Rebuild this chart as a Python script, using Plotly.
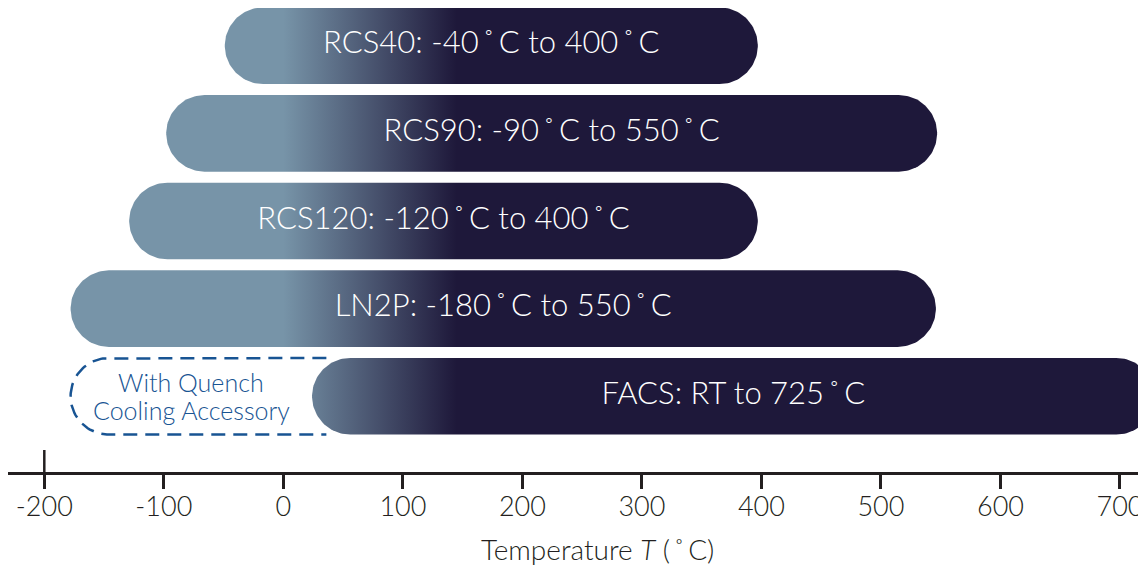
import numpy as np
import plotly.graph_objects as go

# ---- data ----
models = ["FACS", "LN2P", "RCS120", "RCS90", "RCS40"]
DEG = "\u2009˚\u2009"
labels = [f"FACS: RT to 725{DEG}C", f"LN2P: -180{DEG}C to 550{DEG}C",
          f"RCS120: -120{DEG}C to 400{DEG}C", f"RCS90: -90{DEG}C to 550{DEG}C",
          f"RCS40: -40{DEG}C to 400{DEG}C"]
bar_start = [24, -178, -129, -98, -49]
bar_end = [729, 546, 397, 547, 397]
quench_start = -178
quench_end = 36
quench_lines = ["With Quench", "Cooling Accessory"]
tick_vals = [-200, -100, 0, 100, 200, 300, 400, 500, 600, 700]
tick_text = ["-200", "-100", "0", "100", "200", "300", "400", "500", "600", "700"]

# ---- layout geometry (page body has an 8px margin) ----
W, H = 1138, 559
ML, MR, MT, MB = 0, 0, 0, 95
XR = [-230.37, 721.77]
YR = [-0.8637, 4.4301]
plot_w = W - ML - MR
plot_h = H - MT - MB
px_x = plot_w / (XR[1] - XR[0])
px_y = plot_h / (YR[1] - YR[0])
half_px = 38.3
rx = half_px / px_x
ry = half_px / px_y

LIGHT = "#7794A8"
DARK = "#1E183A"
BLUE = "#185493"
INK = "#231F20"
FONT = "Lato"


def stadium(x0, x1, yc):
    t1 = np.linspace(np.pi / 2, 3 * np.pi / 2, 60)
    t2 = np.linspace(-np.pi / 2, np.pi / 2, 60)
    xs = np.concatenate([x0 + rx + rx * np.cos(t1), x1 - rx + rx * np.cos(t2)])
    ys = np.concatenate([yc + ry * np.sin(t1), yc + ry * np.sin(t2)])
    return np.append(xs, xs[0]), np.append(ys, ys[0])


fig = go.Figure()

# dashed quench outline (open on the right, hidden under the FACS bar)
t = np.linspace(np.pi / 2, 3 * np.pi / 2, 60)
qx = np.concatenate([[quench_end], quench_start + rx + rx * np.cos(t), [quench_end]])
qy = np.concatenate([[ry], ry * np.sin(t), [-ry]])
fig.add_trace(go.Scatter(x=qx, y=qy, mode="lines",
                         line=dict(color=BLUE, width=2.5, dash="14px,8px"),
                         hoverinfo="skip", showlegend=False))

for i, (s, e) in enumerate(zip(bar_start, bar_end)):
    xs, ys = stadium(s, e, i)
    fig.add_trace(go.Scatter(
        x=xs, y=ys, mode="lines", fill="toself",
        line=dict(width=0, color=DARK),
        fillgradient=dict(type="horizontal",
                          colorscale=[[0, LIGHT], [1, DARK]],
                          start=0, stop=145),
        hoverinfo="skip", showlegend=False))

fig.add_trace(go.Scatter(
    x=[(s + e) / 2 for s, e in zip(bar_start, bar_end)],
    y=list(range(len(models))), mode="text", text=labels,
    textposition="middle center",
    textfont=dict(family=FONT, size=31, color="white", weight=300),
    hoverinfo="skip", showlegend=False))

for k, line in enumerate(quench_lines):
    fig.add_annotation(x=(quench_start + quench_end) / 2, y=0, xref="x", yref="y",
                       text=line, showarrow=False, xshift=-7,
                       yshift=14 - 28 * k, yanchor="middle",
                       font=dict(family=FONT, size=25, color=BLUE, weight=300))

# axis title
fig.add_annotation(x=0.5, y=0, xref="paper", yref="paper", xshift=20, yshift=-77,
                   yanchor="middle", showarrow=False,
                   text=f"Temperature <i>T</i> ({DEG}C)",
                   font=dict(family=FONT, size=28, color=INK, weight=300))

# taller first tick at -200
fig.add_shape(type="line", xref="x", yref="paper", x0=-200, x1=-200,
              y0=-15 / plot_h, y1=22 / plot_h,
              line=dict(color=INK, width=2.5))

fig.update_layout(
    width=W, height=H,
    margin=dict(l=ML, r=MR, t=MT, b=MB),
    paper_bgcolor="white", plot_bgcolor="white",
    font=dict(family=FONT, color=INK),
    xaxis=dict(range=XR, tickvals=tick_vals, ticktext=tick_text,
               showgrid=False, zeroline=False,
               showline=True, linecolor=INK, linewidth=2.5,
               ticks="outside", ticklen=14, tickwidth=2.5, tickcolor=INK,
               ticklabelstandoff=-5,
               tickfont=dict(family=FONT, size=27, color=INK, weight=300)),
    yaxis=dict(range=YR, visible=False, showgrid=False, zeroline=False),
)

fig.write_html("out.html")
